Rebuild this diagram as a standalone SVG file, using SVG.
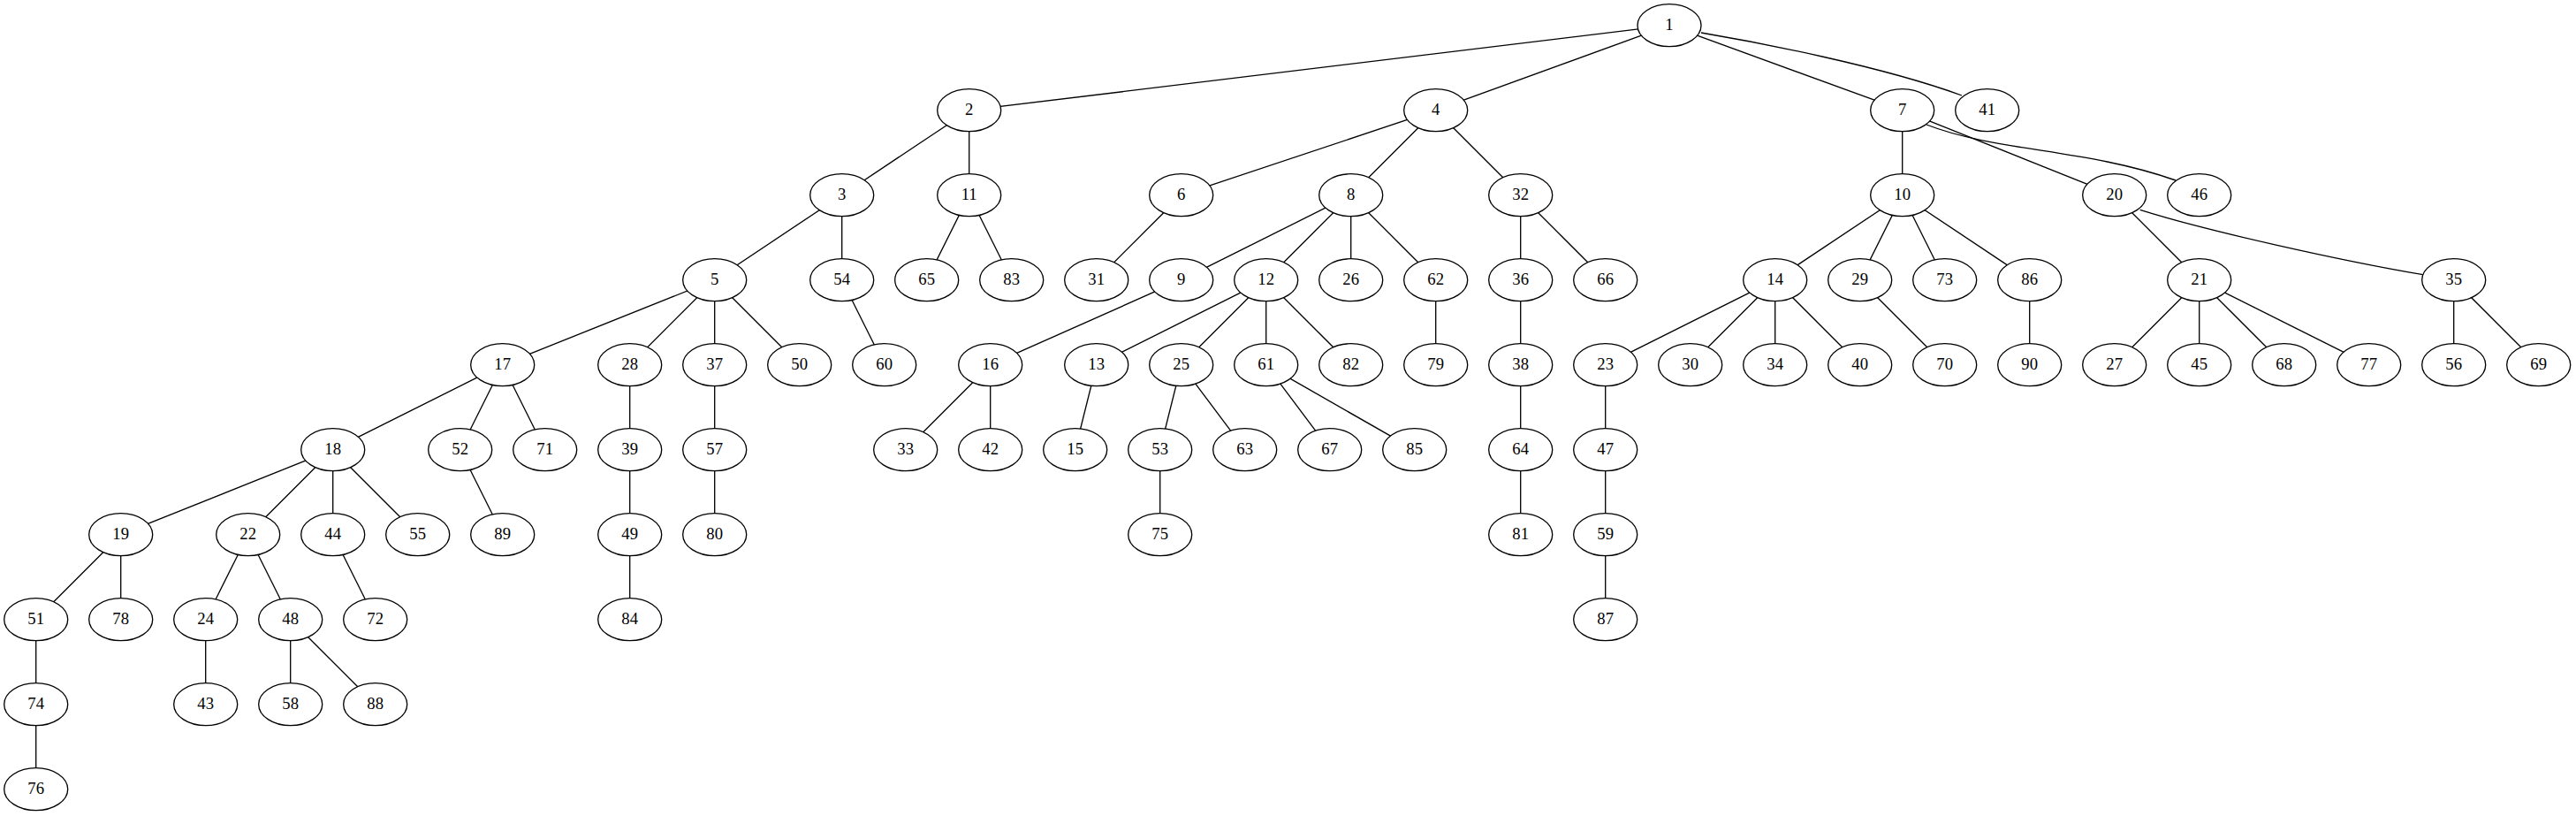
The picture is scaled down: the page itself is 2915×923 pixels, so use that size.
<svg xmlns="http://www.w3.org/2000/svg" width="2915" height="923" viewBox="0 0 2915 923">
<style>
.n ellipse{fill:#fff;stroke:#000;stroke-width:1.33}
.n text{font-family:"Liberation Serif","Times New Roman",serif;font-size:18.67px;text-anchor:middle;fill:#000}
.e line,.e path{stroke:#000;stroke-width:1.33;fill:none}
</style>
<rect width="2915" height="923" fill="#fff"/>
<g id="edges" class="e">
<line x1="1889" y1="28.7" x2="1096.7" y2="124.7"/>
<line x1="1889" y1="28.7" x2="1624.7" y2="124.7"/>
<line x1="1889" y1="28.7" x2="2152.7" y2="124.7"/>
<path d="M1925,37 C1990,48 2130,75 2220,108"/>
<line x1="1096.7" y1="124.7" x2="952.7" y2="220.7"/>
<line x1="1096.7" y1="124.7" x2="1096.7" y2="220.7"/>
<line x1="1624.7" y1="124.7" x2="1336.7" y2="220.7"/>
<line x1="1624.7" y1="124.7" x2="1528.7" y2="220.7"/>
<line x1="1624.7" y1="124.7" x2="1720.7" y2="220.7"/>
<line x1="2152.7" y1="124.7" x2="2152.7" y2="220.7"/>
<line x1="2152.7" y1="124.7" x2="2392.7" y2="220.7"/>
<path d="M2180,141 C2260,172 2360,168 2462,204"/>
<line x1="952.7" y1="220.7" x2="808.7" y2="316.7"/>
<line x1="952.7" y1="220.7" x2="952.7" y2="316.7"/>
<line x1="1096.7" y1="220.7" x2="1048.7" y2="316.7"/>
<line x1="1096.7" y1="220.7" x2="1144.7" y2="316.7"/>
<line x1="1336.7" y1="220.7" x2="1240.7" y2="316.7"/>
<line x1="1528.7" y1="220.7" x2="1336.7" y2="316.7"/>
<line x1="1528.7" y1="220.7" x2="1432.7" y2="316.7"/>
<line x1="1528.7" y1="220.7" x2="1528.7" y2="316.7"/>
<line x1="1528.7" y1="220.7" x2="1624.7" y2="316.7"/>
<line x1="1720.7" y1="220.7" x2="1720.7" y2="316.7"/>
<line x1="1720.7" y1="220.7" x2="1816.7" y2="316.7"/>
<line x1="2152.7" y1="220.7" x2="2008.7" y2="316.7"/>
<line x1="2152.7" y1="220.7" x2="2104.7" y2="316.7"/>
<line x1="2152.7" y1="220.7" x2="2200.7" y2="316.7"/>
<line x1="2152.7" y1="220.7" x2="2296.7" y2="316.7"/>
<line x1="2392.7" y1="220.7" x2="2488.7" y2="316.7"/>
<path d="M2421.7,237.3 C2500,262 2650,295 2741.7,310.7"/>
<line x1="808.7" y1="316.7" x2="568.7" y2="412.7"/>
<line x1="808.7" y1="316.7" x2="712.7" y2="412.7"/>
<line x1="808.7" y1="316.7" x2="808.7" y2="412.7"/>
<line x1="808.7" y1="316.7" x2="904.7" y2="412.7"/>
<line x1="952.7" y1="316.7" x2="1000.7" y2="412.7"/>
<line x1="1336.7" y1="316.7" x2="1120.7" y2="412.7"/>
<line x1="1432.7" y1="316.7" x2="1240.7" y2="412.7"/>
<line x1="1432.7" y1="316.7" x2="1336.7" y2="412.7"/>
<line x1="1432.7" y1="316.7" x2="1432.7" y2="412.7"/>
<line x1="1432.7" y1="316.7" x2="1528.7" y2="412.7"/>
<line x1="1624.7" y1="316.7" x2="1624.7" y2="412.7"/>
<line x1="1720.7" y1="316.7" x2="1720.7" y2="412.7"/>
<line x1="2008.7" y1="316.7" x2="1816.7" y2="412.7"/>
<line x1="2008.7" y1="316.7" x2="1912.7" y2="412.7"/>
<line x1="2008.7" y1="316.7" x2="2008.7" y2="412.7"/>
<line x1="2008.7" y1="316.7" x2="2104.7" y2="412.7"/>
<line x1="2104.7" y1="316.7" x2="2200.7" y2="412.7"/>
<line x1="2296.7" y1="316.7" x2="2296.7" y2="412.7"/>
<line x1="2488.7" y1="316.7" x2="2392.7" y2="412.7"/>
<line x1="2488.7" y1="316.7" x2="2488.7" y2="412.7"/>
<line x1="2488.7" y1="316.7" x2="2584.7" y2="412.7"/>
<line x1="2488.7" y1="316.7" x2="2680.7" y2="412.7"/>
<line x1="2776.7" y1="316.7" x2="2776.7" y2="412.7"/>
<line x1="2776.7" y1="316.7" x2="2872.7" y2="412.7"/>
<line x1="568.7" y1="412.7" x2="376.7" y2="508.7"/>
<line x1="568.7" y1="412.7" x2="520.7" y2="508.7"/>
<line x1="568.7" y1="412.7" x2="616.7" y2="508.7"/>
<line x1="712.7" y1="412.7" x2="712.7" y2="508.7"/>
<line x1="808.7" y1="412.7" x2="808.7" y2="508.7"/>
<line x1="1120.7" y1="412.7" x2="1024.7" y2="508.7"/>
<line x1="1120.7" y1="412.7" x2="1120.7" y2="508.7"/>
<line x1="1240.7" y1="412.7" x2="1216.7" y2="508.7"/>
<line x1="1336.7" y1="412.7" x2="1312.7" y2="508.7"/>
<line x1="1336.7" y1="412.7" x2="1408.7" y2="508.7"/>
<line x1="1432.7" y1="412.7" x2="1504.7" y2="508.7"/>
<line x1="1432.7" y1="412.7" x2="1600.7" y2="508.7"/>
<line x1="1720.7" y1="412.7" x2="1720.7" y2="508.7"/>
<line x1="1816.7" y1="412.7" x2="1816.7" y2="508.7"/>
<line x1="376.7" y1="508.7" x2="136.7" y2="604.7"/>
<line x1="376.7" y1="508.7" x2="280.7" y2="604.7"/>
<line x1="376.7" y1="508.7" x2="376.7" y2="604.7"/>
<line x1="376.7" y1="508.7" x2="472.7" y2="604.7"/>
<line x1="520.7" y1="508.7" x2="568.7" y2="604.7"/>
<line x1="712.7" y1="508.7" x2="712.7" y2="604.7"/>
<line x1="808.7" y1="508.7" x2="808.7" y2="604.7"/>
<line x1="1312.7" y1="508.7" x2="1312.7" y2="604.7"/>
<line x1="1720.7" y1="508.7" x2="1720.7" y2="604.7"/>
<line x1="1816.7" y1="508.7" x2="1816.7" y2="604.7"/>
<line x1="136.7" y1="604.7" x2="40.7" y2="700.7"/>
<line x1="136.7" y1="604.7" x2="136.7" y2="700.7"/>
<line x1="280.7" y1="604.7" x2="232.7" y2="700.7"/>
<line x1="280.7" y1="604.7" x2="328.7" y2="700.7"/>
<line x1="376.7" y1="604.7" x2="424.7" y2="700.7"/>
<line x1="712.7" y1="604.7" x2="712.7" y2="700.7"/>
<line x1="1816.7" y1="604.7" x2="1816.7" y2="700.7"/>
<line x1="40.7" y1="700.7" x2="40.7" y2="796.7"/>
<line x1="232.7" y1="700.7" x2="232.7" y2="796.7"/>
<line x1="328.7" y1="700.7" x2="328.7" y2="796.7"/>
<line x1="328.7" y1="700.7" x2="424.7" y2="796.7"/>
<line x1="40.7" y1="796.7" x2="40.7" y2="892.7"/>
</g>
<g id="n1" class="n"><ellipse cx="1889" cy="28.7" rx="36" ry="24"/><text x="1889" y="34.3">1</text></g>
<g id="n2" class="n"><ellipse cx="1096.7" cy="124.7" rx="36" ry="24"/><text x="1096.7" y="130.3">2</text></g>
<g id="n4" class="n"><ellipse cx="1624.7" cy="124.7" rx="36" ry="24"/><text x="1624.7" y="130.3">4</text></g>
<g id="n7" class="n"><ellipse cx="2152.7" cy="124.7" rx="36" ry="24"/><text x="2152.7" y="130.3">7</text></g>
<g id="n41" class="n"><ellipse cx="2248.7" cy="124.7" rx="36" ry="24"/><text x="2248.7" y="130.3">41</text></g>
<g id="n3" class="n"><ellipse cx="952.7" cy="220.7" rx="36" ry="24"/><text x="952.7" y="226.3">3</text></g>
<g id="n11" class="n"><ellipse cx="1096.7" cy="220.7" rx="36" ry="24"/><text x="1096.7" y="226.3">11</text></g>
<g id="n6" class="n"><ellipse cx="1336.7" cy="220.7" rx="36" ry="24"/><text x="1336.7" y="226.3">6</text></g>
<g id="n8" class="n"><ellipse cx="1528.7" cy="220.7" rx="36" ry="24"/><text x="1528.7" y="226.3">8</text></g>
<g id="n32" class="n"><ellipse cx="1720.7" cy="220.7" rx="36" ry="24"/><text x="1720.7" y="226.3">32</text></g>
<g id="n10" class="n"><ellipse cx="2152.7" cy="220.7" rx="36" ry="24"/><text x="2152.7" y="226.3">10</text></g>
<g id="n20" class="n"><ellipse cx="2392.7" cy="220.7" rx="36" ry="24"/><text x="2392.7" y="226.3">20</text></g>
<g id="n46" class="n"><ellipse cx="2488.7" cy="220.7" rx="36" ry="24"/><text x="2488.7" y="226.3">46</text></g>
<g id="n5" class="n"><ellipse cx="808.7" cy="316.7" rx="36" ry="24"/><text x="808.7" y="322.3">5</text></g>
<g id="n54" class="n"><ellipse cx="952.7" cy="316.7" rx="36" ry="24"/><text x="952.7" y="322.3">54</text></g>
<g id="n65" class="n"><ellipse cx="1048.7" cy="316.7" rx="36" ry="24"/><text x="1048.7" y="322.3">65</text></g>
<g id="n83" class="n"><ellipse cx="1144.7" cy="316.7" rx="36" ry="24"/><text x="1144.7" y="322.3">83</text></g>
<g id="n31" class="n"><ellipse cx="1240.7" cy="316.7" rx="36" ry="24"/><text x="1240.7" y="322.3">31</text></g>
<g id="n9" class="n"><ellipse cx="1336.7" cy="316.7" rx="36" ry="24"/><text x="1336.7" y="322.3">9</text></g>
<g id="n12" class="n"><ellipse cx="1432.7" cy="316.7" rx="36" ry="24"/><text x="1432.7" y="322.3">12</text></g>
<g id="n26" class="n"><ellipse cx="1528.7" cy="316.7" rx="36" ry="24"/><text x="1528.7" y="322.3">26</text></g>
<g id="n62" class="n"><ellipse cx="1624.7" cy="316.7" rx="36" ry="24"/><text x="1624.7" y="322.3">62</text></g>
<g id="n36" class="n"><ellipse cx="1720.7" cy="316.7" rx="36" ry="24"/><text x="1720.7" y="322.3">36</text></g>
<g id="n66" class="n"><ellipse cx="1816.7" cy="316.7" rx="36" ry="24"/><text x="1816.7" y="322.3">66</text></g>
<g id="n14" class="n"><ellipse cx="2008.7" cy="316.7" rx="36" ry="24"/><text x="2008.7" y="322.3">14</text></g>
<g id="n29" class="n"><ellipse cx="2104.7" cy="316.7" rx="36" ry="24"/><text x="2104.7" y="322.3">29</text></g>
<g id="n73" class="n"><ellipse cx="2200.7" cy="316.7" rx="36" ry="24"/><text x="2200.7" y="322.3">73</text></g>
<g id="n86" class="n"><ellipse cx="2296.7" cy="316.7" rx="36" ry="24"/><text x="2296.7" y="322.3">86</text></g>
<g id="n21" class="n"><ellipse cx="2488.7" cy="316.7" rx="36" ry="24"/><text x="2488.7" y="322.3">21</text></g>
<g id="n35" class="n"><ellipse cx="2776.7" cy="316.7" rx="36" ry="24"/><text x="2776.7" y="322.3">35</text></g>
<g id="n17" class="n"><ellipse cx="568.7" cy="412.7" rx="36" ry="24"/><text x="568.7" y="418.3">17</text></g>
<g id="n28" class="n"><ellipse cx="712.7" cy="412.7" rx="36" ry="24"/><text x="712.7" y="418.3">28</text></g>
<g id="n37" class="n"><ellipse cx="808.7" cy="412.7" rx="36" ry="24"/><text x="808.7" y="418.3">37</text></g>
<g id="n50" class="n"><ellipse cx="904.7" cy="412.7" rx="36" ry="24"/><text x="904.7" y="418.3">50</text></g>
<g id="n60" class="n"><ellipse cx="1000.7" cy="412.7" rx="36" ry="24"/><text x="1000.7" y="418.3">60</text></g>
<g id="n16" class="n"><ellipse cx="1120.7" cy="412.7" rx="36" ry="24"/><text x="1120.7" y="418.3">16</text></g>
<g id="n13" class="n"><ellipse cx="1240.7" cy="412.7" rx="36" ry="24"/><text x="1240.7" y="418.3">13</text></g>
<g id="n25" class="n"><ellipse cx="1336.7" cy="412.7" rx="36" ry="24"/><text x="1336.7" y="418.3">25</text></g>
<g id="n61" class="n"><ellipse cx="1432.7" cy="412.7" rx="36" ry="24"/><text x="1432.7" y="418.3">61</text></g>
<g id="n82" class="n"><ellipse cx="1528.7" cy="412.7" rx="36" ry="24"/><text x="1528.7" y="418.3">82</text></g>
<g id="n79" class="n"><ellipse cx="1624.7" cy="412.7" rx="36" ry="24"/><text x="1624.7" y="418.3">79</text></g>
<g id="n38" class="n"><ellipse cx="1720.7" cy="412.7" rx="36" ry="24"/><text x="1720.7" y="418.3">38</text></g>
<g id="n23" class="n"><ellipse cx="1816.7" cy="412.7" rx="36" ry="24"/><text x="1816.7" y="418.3">23</text></g>
<g id="n30" class="n"><ellipse cx="1912.7" cy="412.7" rx="36" ry="24"/><text x="1912.7" y="418.3">30</text></g>
<g id="n34" class="n"><ellipse cx="2008.7" cy="412.7" rx="36" ry="24"/><text x="2008.7" y="418.3">34</text></g>
<g id="n40" class="n"><ellipse cx="2104.7" cy="412.7" rx="36" ry="24"/><text x="2104.7" y="418.3">40</text></g>
<g id="n70" class="n"><ellipse cx="2200.7" cy="412.7" rx="36" ry="24"/><text x="2200.7" y="418.3">70</text></g>
<g id="n90" class="n"><ellipse cx="2296.7" cy="412.7" rx="36" ry="24"/><text x="2296.7" y="418.3">90</text></g>
<g id="n27" class="n"><ellipse cx="2392.7" cy="412.7" rx="36" ry="24"/><text x="2392.7" y="418.3">27</text></g>
<g id="n45" class="n"><ellipse cx="2488.7" cy="412.7" rx="36" ry="24"/><text x="2488.7" y="418.3">45</text></g>
<g id="n68" class="n"><ellipse cx="2584.7" cy="412.7" rx="36" ry="24"/><text x="2584.7" y="418.3">68</text></g>
<g id="n77" class="n"><ellipse cx="2680.7" cy="412.7" rx="36" ry="24"/><text x="2680.7" y="418.3">77</text></g>
<g id="n56" class="n"><ellipse cx="2776.7" cy="412.7" rx="36" ry="24"/><text x="2776.7" y="418.3">56</text></g>
<g id="n69" class="n"><ellipse cx="2872.7" cy="412.7" rx="36" ry="24"/><text x="2872.7" y="418.3">69</text></g>
<g id="n18" class="n"><ellipse cx="376.7" cy="508.7" rx="36" ry="24"/><text x="376.7" y="514.3">18</text></g>
<g id="n52" class="n"><ellipse cx="520.7" cy="508.7" rx="36" ry="24"/><text x="520.7" y="514.3">52</text></g>
<g id="n71" class="n"><ellipse cx="616.7" cy="508.7" rx="36" ry="24"/><text x="616.7" y="514.3">71</text></g>
<g id="n39" class="n"><ellipse cx="712.7" cy="508.7" rx="36" ry="24"/><text x="712.7" y="514.3">39</text></g>
<g id="n57" class="n"><ellipse cx="808.7" cy="508.7" rx="36" ry="24"/><text x="808.7" y="514.3">57</text></g>
<g id="n33" class="n"><ellipse cx="1024.7" cy="508.7" rx="36" ry="24"/><text x="1024.7" y="514.3">33</text></g>
<g id="n42" class="n"><ellipse cx="1120.7" cy="508.7" rx="36" ry="24"/><text x="1120.7" y="514.3">42</text></g>
<g id="n15" class="n"><ellipse cx="1216.7" cy="508.7" rx="36" ry="24"/><text x="1216.7" y="514.3">15</text></g>
<g id="n53" class="n"><ellipse cx="1312.7" cy="508.7" rx="36" ry="24"/><text x="1312.7" y="514.3">53</text></g>
<g id="n63" class="n"><ellipse cx="1408.7" cy="508.7" rx="36" ry="24"/><text x="1408.7" y="514.3">63</text></g>
<g id="n67" class="n"><ellipse cx="1504.7" cy="508.7" rx="36" ry="24"/><text x="1504.7" y="514.3">67</text></g>
<g id="n85" class="n"><ellipse cx="1600.7" cy="508.7" rx="36" ry="24"/><text x="1600.7" y="514.3">85</text></g>
<g id="n64" class="n"><ellipse cx="1720.7" cy="508.7" rx="36" ry="24"/><text x="1720.7" y="514.3">64</text></g>
<g id="n47" class="n"><ellipse cx="1816.7" cy="508.7" rx="36" ry="24"/><text x="1816.7" y="514.3">47</text></g>
<g id="n19" class="n"><ellipse cx="136.7" cy="604.7" rx="36" ry="24"/><text x="136.7" y="610.3">19</text></g>
<g id="n22" class="n"><ellipse cx="280.7" cy="604.7" rx="36" ry="24"/><text x="280.7" y="610.3">22</text></g>
<g id="n44" class="n"><ellipse cx="376.7" cy="604.7" rx="36" ry="24"/><text x="376.7" y="610.3">44</text></g>
<g id="n55" class="n"><ellipse cx="472.7" cy="604.7" rx="36" ry="24"/><text x="472.7" y="610.3">55</text></g>
<g id="n89" class="n"><ellipse cx="568.7" cy="604.7" rx="36" ry="24"/><text x="568.7" y="610.3">89</text></g>
<g id="n49" class="n"><ellipse cx="712.7" cy="604.7" rx="36" ry="24"/><text x="712.7" y="610.3">49</text></g>
<g id="n80" class="n"><ellipse cx="808.7" cy="604.7" rx="36" ry="24"/><text x="808.7" y="610.3">80</text></g>
<g id="n75" class="n"><ellipse cx="1312.7" cy="604.7" rx="36" ry="24"/><text x="1312.7" y="610.3">75</text></g>
<g id="n81" class="n"><ellipse cx="1720.7" cy="604.7" rx="36" ry="24"/><text x="1720.7" y="610.3">81</text></g>
<g id="n59" class="n"><ellipse cx="1816.7" cy="604.7" rx="36" ry="24"/><text x="1816.7" y="610.3">59</text></g>
<g id="n51" class="n"><ellipse cx="40.7" cy="700.7" rx="36" ry="24"/><text x="40.7" y="706.3">51</text></g>
<g id="n78" class="n"><ellipse cx="136.7" cy="700.7" rx="36" ry="24"/><text x="136.7" y="706.3">78</text></g>
<g id="n24" class="n"><ellipse cx="232.7" cy="700.7" rx="36" ry="24"/><text x="232.7" y="706.3">24</text></g>
<g id="n48" class="n"><ellipse cx="328.7" cy="700.7" rx="36" ry="24"/><text x="328.7" y="706.3">48</text></g>
<g id="n72" class="n"><ellipse cx="424.7" cy="700.7" rx="36" ry="24"/><text x="424.7" y="706.3">72</text></g>
<g id="n84" class="n"><ellipse cx="712.7" cy="700.7" rx="36" ry="24"/><text x="712.7" y="706.3">84</text></g>
<g id="n87" class="n"><ellipse cx="1816.7" cy="700.7" rx="36" ry="24"/><text x="1816.7" y="706.3">87</text></g>
<g id="n74" class="n"><ellipse cx="40.7" cy="796.7" rx="36" ry="24"/><text x="40.7" y="802.3">74</text></g>
<g id="n43" class="n"><ellipse cx="232.7" cy="796.7" rx="36" ry="24"/><text x="232.7" y="802.3">43</text></g>
<g id="n58" class="n"><ellipse cx="328.7" cy="796.7" rx="36" ry="24"/><text x="328.7" y="802.3">58</text></g>
<g id="n88" class="n"><ellipse cx="424.7" cy="796.7" rx="36" ry="24"/><text x="424.7" y="802.3">88</text></g>
<g id="n76" class="n"><ellipse cx="40.7" cy="892.7" rx="36" ry="24"/><text x="40.7" y="898.3">76</text></g>
</svg>
